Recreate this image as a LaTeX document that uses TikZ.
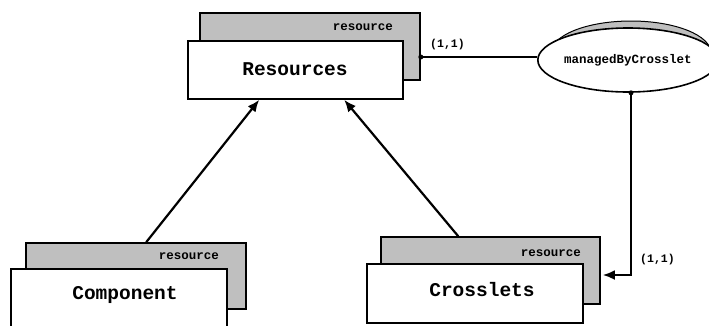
\documentclass[tikz,border=0pt]{standalone}
\usepackage{fontspec}
\setmonofont{Liberation Mono}
\usetikzlibrary{arrows.meta,calc,shapes.geometric}
\begin{document}
\begin{tikzpicture}[x=1pt,y=-1pt,
  backbox/.style={draw=black,line width=1.6pt,fill=black!25,inner sep=0pt},
  frontbox/.style={draw=black,line width=1.6pt,fill=white,inner sep=0pt},
  tag/.style={font=\ttfamily\bfseries\fontsize{12.5}{14}\selectfont,inner sep=0pt,anchor=east},
  title/.style={font=\ttfamily\bfseries\fontsize{19.5}{22}\selectfont,inner sep=0pt},
  card/.style={font=\ttfamily\bfseries\fontsize{11.5}{13}\selectfont,inner sep=0pt,anchor=west},
  relshape/.style={ellipse,minimum width=160pt,minimum height=64pt,inner sep=0pt},
  link/.style={line width=2.2pt},
  arrowlink/.style={line width=2.2pt,-{Latex[length=12pt,width=10pt]}},
  dot/.style={circle,fill=black,inner sep=0pt,minimum size=5pt}]
\useasboundingbox (0,0) rectangle (709,325);

% Resources entity
\node[backbox,minimum width=220pt,minimum height=67pt] (rb) at (310,46.5) {};
\node[tag] (rt) at (393,27) {resource};
\node[frontbox,minimum width=215pt,minimum height=58pt] (rf) at (295.5,70) {};
\node[title] (rn) at (295,69) {Resources};

% Component entity
\node[backbox,minimum width=220pt,minimum height=66pt] (cb) at (136,276) {};
\node[tag] (ct) at (219,256) {resource};
\node[frontbox,minimum width=216pt,minimum height=64pt] (cf) at (119,301) {};
\node[title] (cn) at (125,295) {Component};

% Crosslets entity
\node[backbox,minimum width=219pt,minimum height=67pt] (xb) at (490.5,270.5) {};
\node[tag] (xt) at (581,253) {resource};
\node[frontbox,minimum width=216pt,minimum height=59pt] (xf) at (475,293.5) {};
\node[title] (xn) at (482,290) {Crosslets};

% managedByCrosslet relationship, with its shadow
\node[relshape,draw=black,line width=1pt,fill=black!25] (ms) at (631,53) {};
\node[relshape,draw=black,line width=1.6pt,fill=white,
      font=\ttfamily\bfseries\fontsize{12.5}{14}\selectfont] (mb) at (628,60) {managedByCrosslet};

% generalisation arrows
\draw[arrowlink] ([xshift=121pt]cb.north west) -- ([xshift=72pt]rf.south west);
\draw[arrowlink] ([xshift=78pt]xb.north west) -- ([xshift=157pt]rf.south west);

% relationship links
\coordinate (ra) at ([yshift=-10.5pt]rb.east);
\draw[link] (ra) -- (ra -| mb.west);
\node[dot] (rd) at (ra) {};
\node[card] (rc) at (430,45) {(1,1)};

\coordinate (ma) at ([xshift=3pt]mb.south);
\coordinate (xa) at ([yshift=-4.5pt,xshift=2pt]xb.east);
\draw[arrowlink] (ma) -- (ma |- xa) -- (xa);
\node[dot] (md) at (ma) {};
\node[card] (xc) at (640,260) {(1,1)};
\end{tikzpicture}
\end{document}
